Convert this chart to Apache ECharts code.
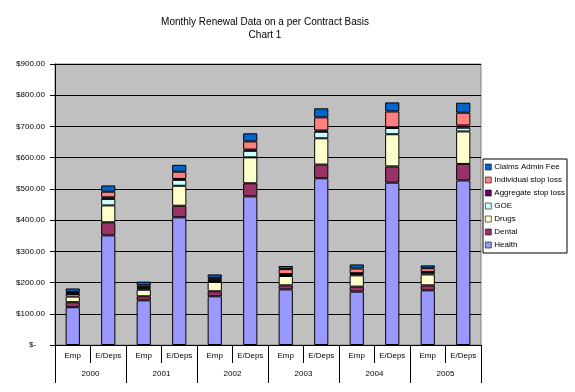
<!DOCTYPE html>
<html>
<head>
<meta charset="utf-8">
<script src="https://cdn.jsdelivr.net/npm/echarts@6/dist/echarts.min.js"></script>
<style>html,body{margin:0;padding:0;background:#fff}#c{width:575px;height:392px}</style>
</head>
<body>
<div id="c"></div>
<script>
const categories = ['Emp','E/Deps','Emp','E/Deps','Emp','E/Deps','Emp','E/Deps','Emp','E/Deps','Emp','E/Deps'];
const years = ['2000','2001','2002','2003','2004','2005'];
const health     = [121, 351, 143, 409, 156, 476, 178, 534, 171, 520, 175, 527];
const dental     = [16, 42, 13, 37, 16, 42, 13, 44, 16, 52, 16, 53];
const drugs      = [18, 54, 21, 64, 30, 83, 30, 84, 36, 103, 35, 104];
const goe        = [8, 21, 5, 19, 5, 21, 4, 21, 5, 20, 6, 12];
const aggregate  = [2, 5, 3, 3, 2, 4, 2, 4, 2, 2, 2, 7];
const individual = [5, 18, 6, 23, 6, 26, 16, 42, 15, 51, 12, 41];
const claims     = [11, 20, 12, 22, 11, 26, 10, 29, 13, 29, 9, 32];

const font = 'Liberation Sans, Arial, sans-serif';
const seriesDefs = [
  ['Health', health, '#9999FF'],
  ['Dental', dental, '#993366'],
  ['Drugs', drugs, '#FFFFCC'],
  ['GOE', goe, '#CCFFFF'],
  ['Aggregate stop loss', aggregate, '#660066'],
  ['Individual stop loss', individual, '#FF8080'],
  ['Claims Admin Fee', claims, '#0066CC']
];
const chart = echarts.init(document.getElementById('c'), null, {renderer: 'canvas'});
chart.setOption({
  animation: false,
  backgroundColor: '#fff',
  title: {
    text: 'Monthly Renewal Data on a per Contract Basis\nChart 1',
    left: 260, top: 11, textAlign: 'center',
    textStyle: {fontFamily: font, fontSize: 10, fontWeight: 'normal', color: '#000', lineHeight: 13}
  },
  legend: {
    orient: 'vertical',
    left: 483, top: 159,
    width: 91,
    data: seriesDefs.map(s => s[0]).reverse(),
    backgroundColor: '#fff',
    borderColor: '#000', borderWidth: 1,
    padding: [4, 2, 4, 2],
    itemWidth: 6, itemHeight: 6, itemGap: 5,
    icon: 'rect',
    itemStyle: {borderWidth: 0.6},
    textStyle: {fontFamily: font, fontSize: 8, color: '#000', padding: [0, 0, 0, -2]}
  },
  grid: {left: 55, right: 94, top: 64, bottom: 47, show: true, backgroundColor: '#C0C0C0', borderColor: '#808080', borderWidth: 1},
  xAxis: [
    {
      type: 'category', data: categories, position: 'bottom',
      axisLine: {lineStyle: {color: '#000', width: 1}},
      axisTick: {show: true, length: 18, lineStyle: {color: '#000'}},
      axisLabel: {fontFamily: font, fontSize: 8, color: '#000', margin: 7, interval: 0}
    },
    {
      type: 'category', data: years, position: 'bottom',
      axisLine: {show: false},
      axisTick: {show: true, length: 38, lineStyle: {color: '#000'}},
      axisLabel: {fontFamily: font, fontSize: 8, color: '#000', margin: 25, interval: 0}
    }
  ],
  yAxis: {
    type: 'value', min: 0, max: 900, interval: 100,
    axisLine: {show: true, lineStyle: {color: '#000'}},
    axisTick: {show: true, length: 5, lineStyle: {color: '#000'}},
    splitLine: {show: true, lineStyle: {color: '#000', width: 1}},
    axisLabel: {fontFamily: font, fontSize: 8, color: '#000', margin: 10,
      formatter: v => v === 0 ? '$-    ' : '$' + v.toFixed(2)}
  },
  series: seriesDefs.map(s => ({
    name: s[0], type: 'bar', stack: 'total', data: s[1], barWidth: '40%', xAxisIndex: 0,
    itemStyle: {color: s[2], borderColor: '#000', borderWidth: 1}
  }))
});
</script>
</body>
</html>
